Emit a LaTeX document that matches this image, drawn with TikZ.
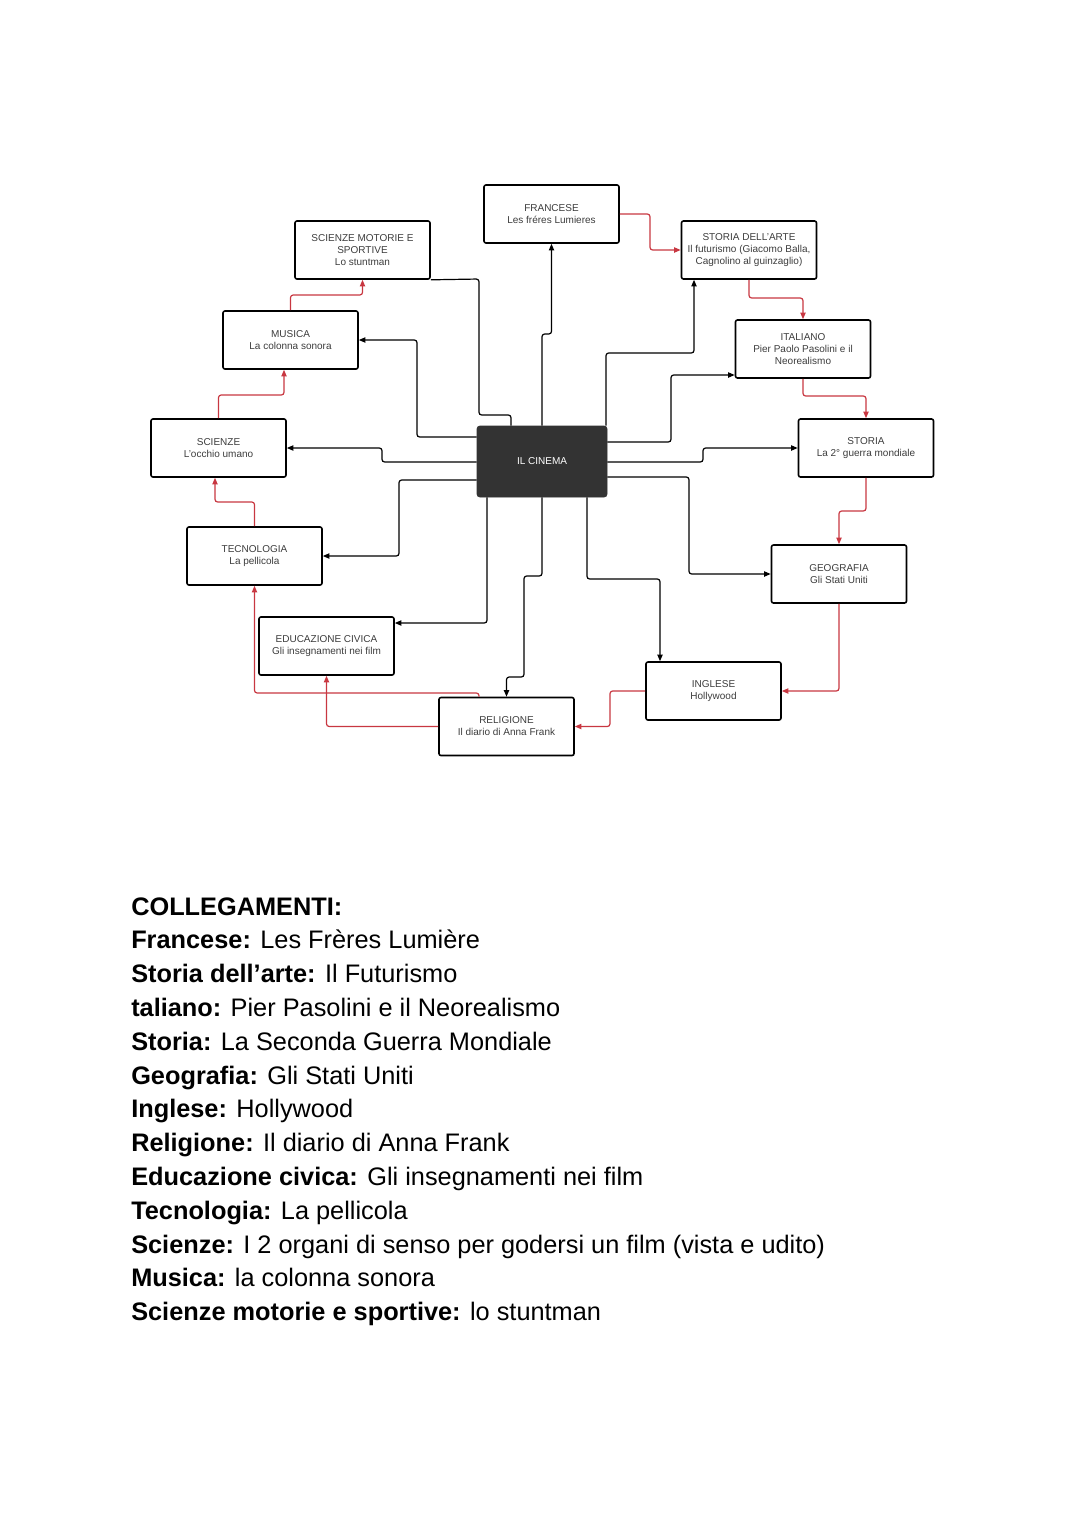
\documentclass[tikz,border=0pt]{standalone}
\usepackage{fontspec}
\setmainfont{Liberation Sans}
\usetikzlibrary{arrows.meta}
\definecolor{redline}{RGB}{200,55,65}
\definecolor{boxtext}{RGB}{60,60,60}
\definecolor{cinemafill}{RGB}{51,51,51}
\begin{document}
\begin{tikzpicture}[x=0.75pt,y=-0.75pt,
  box/.style={draw=black,line width=1.2pt,rounded corners=1.5pt,minimum width=101.25pt,minimum height=43.5pt,inner sep=0pt,align=center,font=\fontsize{7.5}{9}\selectfont,text=boxtext},
  cinema/.style={fill=cinemafill,draw=cinemafill,rounded corners=2pt,minimum width=97.5pt,minimum height=53.25pt,inner sep=0pt,align=center,font=\fontsize{7.5}{9}\selectfont,text=white},
  line0/.style={draw=black,line width=0.9pt,rounded corners=2pt},
  conn/.style={line0,-{Triangle[length=5pt,width=4pt]}},
  rconn/.style={draw=redline,line width=0.9pt,rounded corners=2pt,-{Triangle[length=5pt,width=4pt]}},
  caption/.style={anchor=base west,inner sep=0pt,font=\fontsize{19}{25.35}\selectfont,text=black}]
\useasboundingbox (0,0) rectangle (1080,1525);

% boxes
\node[box] (FR) at (551.5,214) {FRANCESE\\Les fréres Lumieres};
\node[box] (SA) at (749,250) {STORIA DELL’ARTE\\Il futurismo (Giacomo Balla,\\Cagnolino al guinzaglio)};
\node[box] (SM) at (362.5,250) {SCIENZE MOTORIE E\\SPORTIVE\\Lo stuntman};
\node[box] (MU) at (290.5,340) {MUSICA\\La colonna sonora};
\node[box] (IT) at (803,349) {ITALIANO\\Pier Paolo Pasolini e il\\Neorealismo};
\node[box] (SC) at (218.5,448) {SCIENZE\\L’occhio umano};
\node[cinema] (CI) at (542,461.5) {IL CINEMA};
\node[box] (ST) at (866,448) {STORIA\\La 2° guerra mondiale};
\node[box] (TE) at (254.5,556) {TECNOLOGIA\\La pellicola};
\node[box] (GE) at (839,574) {GEOGRAFIA\\Gli Stati Uniti};
\node[box] (ED) at (326.5,646) {EDUCAZIONE CIVICA\\Gli insegnamenti nei film};
\node[box] (IN) at (713.5,691) {INGLESE\\Hollywood};
\node[box] (RE) at (506.5,726.5) {RELIGIONE\\Il diario di Anna Frank};

% black connectors from IL CINEMA
\draw[conn] (CI.north) -- (542,334) -- (551.5,334) -- (FR.south);
\draw[line0] (CI.north -| 511,0) -- (511,415) -- (479,415) -- (479,279) -- (SM.south east);
\draw[conn] (CI.west |- 0,437) -| (417,340) -- (MU.east);
\draw[conn] (CI.west |- 0,462) -- (382,462) -- (382,448) -- (SC.east);
\draw[conn] (CI.west |- 0,480) -| (399,556) -- (TE.east);
\draw[conn] (CI.south -| 487,0) |- (ED.east |- 0,623);
\draw[conn] (CI.south) -- (542,576) -- (524,576) -- (524,677) -- (506.5,677) -- (RE.north);
\draw[conn] (CI.south -| 587,0) |- (660,579) -- (IN.north -| 660,0);
\draw[conn] (CI.east |- 0,477) -| (689,574) -- (GE.west);
\draw[conn] (CI.east |- 0,462) -- (703,462) -- (703,448) -- (ST.west);
\draw[conn] (CI.east |- 0,442) -| (671,375) -- (IT.west |- 0,375);
\draw[conn] (CI.north -| 606,0) |- (694,353) -- (SA.south -| 694,0);

% red chain
\draw[rconn] (FR.east) -| (650,250) -- (SA.west);
\draw[rconn] (SA.south) |- (803,298) -- (IT.north);
\draw[rconn] (IT.south) |- (866,396) -- (ST.north);
\draw[rconn] (ST.south) |- (839,511) -- (GE.north);
\draw[rconn] (GE.south) |- (IN.east);
\draw[rconn] (IN.west) -| (610,726.5) -- (RE.east);
\draw[rconn] (RE.west) -| (ED.south);
\draw[rconn] (RE.north -| 479,0) |- (254.5,693) -- (TE.south);
\draw[rconn] (TE.north) |- (215,502) -- (SC.south -| 215,0);
\draw[rconn] (SC.north) |- (284,395) -- (MU.south -| 284,0);
\draw[rconn] (MU.north) |- (362.5,295) -- (SM.south);

% text block
\node[caption] (t0) at (131,915) {\textbf{COLLEGAMENTI:}};
\node[caption] (t1) at (131,948.8) {\textbf{Francese:} Les Frères Lumière};
\node[caption] (t2) at (131,982.6) {\textbf{Storia dell’arte:} Il Futurismo};
\node[caption] (t3) at (131,1016.4) {\textbf{taliano:} Pier Pasolini e il Neorealismo};
\node[caption] (t4) at (131,1050.2) {\textbf{Storia:} La Seconda Guerra Mondiale};
\node[caption] (t5) at (131,1084) {\textbf{Geografia:} Gli Stati Uniti};
\node[caption] (t6) at (131,1117.8) {\textbf{Inglese:} Hollywood};
\node[caption] (t7) at (131,1151.6) {\textbf{Religione:} Il diario di Anna Frank};
\node[caption] (t8) at (131,1185.4) {\textbf{Educazione civica:} Gli insegnamenti nei film};
\node[caption] (t9) at (131,1219.2) {\textbf{Tecnologia:} La pellicola};
\node[caption] (t10) at (131,1253) {\textbf{Scienze:} I 2 organi di senso per godersi un film (vista e udito)};
\node[caption] (t11) at (131,1286.8) {\textbf{Musica:} la colonna sonora};
\node[caption] (t12) at (131,1320.6) {\textbf{Scienze motorie e sportive:} lo stuntman};
\end{tikzpicture}
\end{document}
